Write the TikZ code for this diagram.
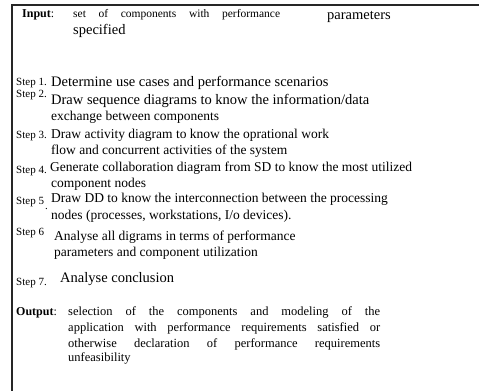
\documentclass[tikz,border=0pt]{standalone}
\usepackage{fontspec}
\setmainfont{Liberation Serif}
\usetikzlibrary{positioning}
\tikzset{
  frame/.style={line width=1.6pt, draw=black!85},
  txt/.style={anchor=base west, inner sep=0pt, font=\fontsize{13.5}{15}\selectfont},
  big/.style={font=\fontsize{14.5}{16}\selectfont},
  lbl/.style={anchor=base west, inner sep=0pt, font=\fontsize{11}{13}\selectfont},
  spr/.style={anchor=base west, inner sep=0pt, font=\fontsize{12.5}{14}\selectfont},
  head/.style={anchor=base west, inner sep=0pt, font=\fontsize{12}{14}\selectfont\bfseries}
}
\newcommand{\spread}[2]{\makebox[#1][s]{#2}}

\begin{document}
\begin{tikzpicture}[x=1pt,y=-1pt]
  \useasboundingbox (0,0) rectangle (479,391);
  \coordinate (corner) at (12,5);
  \coordinate (topend) at (479,5);
  \coordinate (leftend) at (12,391);
  \draw[frame] (topend) -- (corner) -- (leftend);

  % input
  \node[head] (inhead) at (22,17) {Input\textmd{:}};
  \node[spr, font=\fontsize{11.5}{13}\selectfont] (in1) at (73,17) {\spread{207pt}{set of components with performance}};
  \node[txt, big] (in2) at (327,19) {parameters};
  \node[txt, big] (in3) at (73,34) {specified};

  % steps
  \node[lbl] (s1) at (16,85) {Step 1.};
  \node[txt, big] (t1) at (51,86) {Determine use cases and performance scenarios};
  \node[lbl] (s2) at (16,97) {Step 2.};
  \node[txt, big] (t2a) at (51,104) {Draw sequence diagrams to know the information/data};
  \node[txt] (t2b) at (51,120) {exchange between components};
  \node[lbl] (s3) at (16,138) {Step 3.};
  \node[txt] (t3a) at (51,138) {Draw activity diagram to know the oprational work};
  \node[txt] (t3b) at (51,154) {flow and concurrent activities of the system};
  \node[lbl] (s4) at (16,173) {Step 4.};
  \node[txt] (t4a) at (50,171) {Generate collaboration diagram from SD to know the most utilized};
  \node[txt] (t4b) at (51,187) {component nodes};
  \node[lbl] (s5) at (16,204) {Step 5};
  \node[lbl] (dot5) at (45,209) {.};
  \node[txt] (t5a) at (51,202) {Draw DD to know the interconnection between the processing};
  \node[txt] (t5b) at (51,219) {nodes (processes, workstations, I/o devices).};
  \node[lbl] (s6) at (16,235) {Step 6};
  \node[txt] (t6a) at (54,240) {Analyse all digrams in terms of performance};
  \node[txt] (t6b) at (54,256) {parameters and component utilization};
  \node[lbl] (s7) at (16,285) {Step 7.};
  \node[txt, big] (t7) at (60,282) {Analyse conclusion};

  % output
  \node[head] (outhead) at (16,315) {Output\textmd{:}};
  \node[spr] (o1) at (68,315) {\spread{312pt}{selection of the components and modeling of the}};
  \node[spr] (o2) at (68,331) {\spread{312pt}{application with performance requirements satisfied or}};
  \node[spr] (o3) at (68,347) {\spread{312pt}{otherwise declaration of performance requirements}};
  \node[spr] (o4) at (68,361) {unfeasibility};
\end{tikzpicture}
\end{document}
